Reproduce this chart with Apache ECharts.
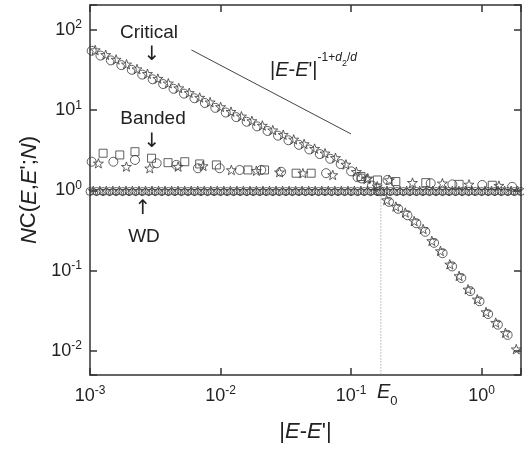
<!DOCTYPE html>
<html><head><meta charset="utf-8">
<script src="https://cdn.jsdelivr.net/npm/echarts@6/dist/echarts.min.js"></script>
<style>html,body{margin:0;padding:0;background:#fff}#c{width:524px;height:449px}</style>
</head><body><div id="c"></div>
<script>
// ---------- data ----------
const xTicks = [0.001, 0.01, 0.1, 1];
const yTicks = [0.01, 0.1, 1, 10, 100];

// Critical: circles
const critCircleX = [0.00103,0.001202,0.001445,0.001738,0.002089,0.002512,0.00302,0.003631,0.004365,0.005248,0.00631,0.007586,0.00912,0.01096,0.01318,0.01585,0.01905,0.02291,0.02754,0.03311,0.03981,0.04786,0.05754,0.06918,0.08318,0.1,0.1202,0.1445,0.166,
  0.195,0.229,0.27,0.316,0.37,0.432,0.502,0.593,0.698,0.817,0.962,1.12,1.33,1.58];
const critCircleY = [55.0,48.0,41.8,36.5,31.9,27.8,24.3,21.2,18.5,16.1,14.1,12.3,10.7,9.36,8.2,7.18,6.29,5.51,4.82,4.22,3.7,3.24,2.84,2.48,2.13,1.73,1.41,1.15,0.98,
  0.72,0.59,0.49,0.39,0.305,0.222,0.165,0.113,0.081,0.0555,0.0415,0.0288,0.0212,0.0158];
// Critical: stars
const critStarX = [0.001096,0.001318,0.001585,0.001905,0.002291,0.002754,0.003311,0.003981,0.004786,0.005754,0.006918,0.008318,0.01,0.01202,0.01445,0.01738,0.02089,0.02512,0.0302,0.03631,0.04365,0.05248,0.0631,0.07586,0.0912,0.1096,0.1318,0.1585,
  0.187,0.22,0.26,0.304,0.356,0.415,0.483,0.57,0.671,0.786,0.925,1.08,1.28,1.52,1.84];
const critStarY = [56.3,49.1,42.9,37.4,32.6,28.5,24.8,21.7,18.9,16.5,14.4,12.6,11.0,9.6,8.41,7.36,6.45,5.65,4.95,4.33,3.8,3.32,2.91,2.55,2.11,1.71,1.39,1.13,
  0.76,0.63,0.53,0.415,0.33,0.235,0.176,0.12,0.086,0.0585,0.044,0.0305,0.0225,0.0168,0.0105];

// Banded
const bandSquareX = [0.00126,0.00169,0.00221,0.00296,0.00396,0.00532,0.00692,0.00929,0.0162,0.0217,0.0379,0.0494,0.119,0.159,0.22,0.373,0.671,1.205];
const bandSquareY = [2.91,2.77,3.04,2.52,2.22,2.28,2.14,2.08,1.80,1.80,1.64,1.64,1.49,1.35,1.29,1.25,1.19,1.16];
const bandCircleX = [0.00103,0.00151,0.00221,0.00324,0.00459,0.00671,0.00985,0.014,0.0205,0.0291,0.0643,0.112,0.19,0.407,0.596,1.01,1.71];
const bandCircleY = [2.28,2.28,2.40,2.18,2.08,1.89,1.89,1.80,1.80,1.71,1.64,1.46,1.35,1.23,1.19,1.17,1.11];
const bandStarX = [0.00116,0.0019,0.00287,0.00473,0.00735,0.0121,0.0188,0.0283,0.0427,0.0723,0.134,0.196,0.295,0.5,0.8,1.355];
const bandStarY = [2.18,1.98,1.89,1.98,2.02,1.80,1.76,1.69,1.64,1.56,1.42,1.35,1.25,1.23,1.19,1.15];

// WD
const wdCircleX = [0.001,0.001122,0.001259,0.001413,0.001585,0.001778,0.001995,0.002239,0.002512,0.002818,0.003162,0.003548,0.003981,0.004467,0.005012,0.005623,0.00631,0.007079,0.007943,0.008913,
  0.01,0.01122,0.01259,0.01413,0.01585,0.01778,0.01995,0.02239,0.02512,0.02818,0.03162,0.03548,0.03981,0.04467,0.05012,0.05623,0.0631,0.07079,0.07943,0.08913,
  0.1,0.1122,0.1259,0.1413,0.1585,0.1778,0.1995,0.2239,0.2512,0.2818,0.3162,0.3548,0.3981,0.4467,0.5012,0.5623,0.631,0.7079,0.7943,0.8913,
  1,1.122,1.259,1.413,1.585,1.778,1.995];
const wdCircleY = [0.97,0.97,0.97,0.97,0.97,0.97,0.97,0.97,0.97,0.97,0.97,0.97,0.97,0.97,0.97,0.97,0.97,0.97,0.97,0.97,
  0.97,0.97,0.97,0.97,0.97,0.97,0.97,0.97,0.97,0.97,0.97,0.97,0.97,0.97,0.97,0.97,0.97,0.97,0.97,0.97,
  0.97,0.97,0.97,0.97,0.97,0.97,0.97,0.97,0.97,0.97,0.97,0.97,0.97,0.97,0.97,0.97,0.97,0.97,0.97,0.97,
  0.97,0.97,0.97,0.97,0.97,0.97,0.97];
const wdStarX = [0.001059,0.001189,0.001334,0.001496,0.001679,0.001884,0.002113,0.002371,0.002661,0.002985,0.00335,0.003758,0.004217,0.004732,0.005309,0.005957,0.006683,0.007499,0.008414,0.009441,
  0.01059,0.01189,0.01334,0.01496,0.01679,0.01884,0.02113,0.02371,0.02661,0.02985,0.0335,0.03758,0.04217,0.04732,0.05309,0.05957,0.06683,0.07499,0.08414,0.09441,
  0.1059,0.1189,0.1334,0.1496,0.1679,0.1884,0.2113,0.2371,0.2661,0.2985,0.335,0.3758,0.4217,0.4732,0.5309,0.5957,0.6683,0.7499,0.8414,0.9441,
  1.059,1.189,1.334,1.496,1.679,1.884];
const wdStarY = [0.99,0.99,0.99,0.99,0.99,0.99,0.99,0.99,0.99,0.99,0.99,0.99,0.99,0.99,0.99,0.99,0.99,0.99,0.99,0.99,
  0.99,0.99,0.99,0.99,0.99,0.99,0.99,0.99,0.99,0.99,0.99,0.99,0.99,0.99,0.99,0.99,0.99,0.99,0.99,0.99,
  0.99,0.99,0.99,0.99,0.99,0.99,0.99,0.99,0.99,0.99,0.99,0.99,0.99,0.99,0.99,0.99,0.99,0.99,0.99,0.99,
  0.99,0.99,0.99,0.99,0.99,0.99];

// reference power law line and E0 marker
const guideX = [0.00598, 0.0998];
const guideY = [56.4, 5.06];
const e0X = [0.169, 0.169];
const e0Y = [1.0, 0.005];

// ---------- chart ----------
const FONT = 'Liberation Sans, Arial, sans-serif';
const INK = '#333';
const zip = (xs, ys) => xs.map((x, i) => [x, ys[i]]);
const STAR = 'path://M0,-10L2.35,-3.24L9.51,-3.09L3.8,1.24L5.88,8.09L0,4L-5.88,8.09L-3.8,1.24L-9.51,-3.09L-2.35,-3.24Z';

function hollow(name, xs, ys, symbol, size) {
  return {
    type: 'scatter', name, data: zip(xs, ys), symbol, symbolSize: size, symbolKeepAspect: true,
    itemStyle: { color: 'rgba(255,255,255,0)', borderColor: '#3a3a3a', borderWidth: 1 },
    silent: true, animation: false
  };
}
function powLabel(v) {
  const e = Math.log10(v);
  const r = Math.round(e);
  if (Math.abs(e - r) > 1e-6) return '';
  return '{b|10}{s|' + r + '}';
}
const labelRich = {
  b: { fontSize: 18, fontFamily: FONT, color: '#222', lineHeight: 22 },
  s: { fontSize: 12, fontFamily: FONT, color: '#222', lineHeight: 12, verticalAlign: 'top' }
};
const axisCommon = {
  type: 'log', logBase: 10,
  axisLine: { show: true, lineStyle: { color: INK, width: 1.5 } },
  axisTick: { show: true, inside: true, length: 7, lineStyle: { color: INK, width: 1.5 } },
  minorTick: { show: false }, splitLine: { show: false }
};

const chart = echarts.init(document.getElementById('c'), null, { renderer: 'canvas' });
chart.setOption({
  animation: false,
  backgroundColor: '#fff',
  grid: { left: 90, right: 2, top: 5, bottom: 74 },
  xAxis: [
    Object.assign({}, axisCommon, {
      min: 0.001, max: 2, position: 'bottom',
      axisLabel: { formatter: powLabel, rich: labelRich, margin: 10 },
      name: "{n||}{i|E}{n|-}{i|E}{n|'|}", nameLocation: 'middle', nameGap: 46,
      nameTextStyle: { rich: {
        n: { fontSize: 22, fontFamily: FONT, color: '#222' },
        i: { fontSize: 22, fontFamily: FONT, fontStyle: 'italic', color: '#222' } } }
    }),
    Object.assign({}, axisCommon, { min: 0.001, max: 2, position: 'top', axisLabel: { show: false } })
  ],
  yAxis: [
    Object.assign({}, axisCommon, {
      min: 0.005, max: 205, position: 'left',
      axisLabel: { formatter: powLabel, rich: labelRich, margin: 8 },
      name: "{i|N}{n|C(}{i|E}{n|,}{i|E}{n|';}{i|N}{n|)}", nameLocation: 'middle', nameGap: 47, nameRotate: 90,
      nameTextStyle: { rich: {
        n: { fontSize: 22, fontFamily: FONT, color: '#222' },
        i: { fontSize: 22, fontFamily: FONT, fontStyle: 'italic', color: '#222' } } }
    }),
    Object.assign({}, axisCommon, { min: 0.005, max: 205, position: 'right', axisLabel: { show: false } })
  ],
  series: [
    { type: 'line', data: zip(guideX, guideY), symbol: 'none', lineStyle: { color: '#444', width: 1 }, silent: true },
    { type: 'line', data: zip(e0X, e0Y), symbol: 'none', lineStyle: { color: '#888', width: 1, type: [1, 2] }, silent: true },
    hollow('WD circles', wdCircleX, wdCircleY, 'circle', 8),
    hollow('WD stars', wdStarX, wdStarY, STAR, 10),
    hollow('Banded squares', bandSquareX, bandSquareY, 'rect', 8),
    hollow('Banded circles', bandCircleX, bandCircleY, 'circle', 9),
    hollow('Banded stars', bandStarX, bandStarY, STAR, 10),
    hollow('Critical circles', critCircleX, critCircleY, 'circle', 9),
    hollow('Critical stars', critStarX, critStarY, STAR, 10)
  ],
  graphic: [
    { type: 'text', x: 149, y: 33, style: { text: 'Critical', fontSize: 19, fontFamily: FONT, fill: '#222', align: 'center', verticalAlign: 'middle' } },
    { type: 'text', x: 152, y: 55, style: { text: '↓', fontSize: 20, fontFamily: 'DejaVu Sans', fill: '#222', align: 'center', verticalAlign: 'middle' } },
    { type: 'text', x: 153, y: 119, style: { text: 'Banded', fontSize: 19, fontFamily: FONT, fill: '#222', align: 'center', verticalAlign: 'middle' } },
    { type: 'text', x: 152, y: 142, style: { text: '↓', fontSize: 20, fontFamily: 'DejaVu Sans', fill: '#222', align: 'center', verticalAlign: 'middle' } },
    { type: 'text', x: 143, y: 209, style: { text: '↑', fontSize: 20, fontFamily: 'DejaVu Sans', fill: '#222', align: 'center', verticalAlign: 'middle' } },
    { type: 'text', x: 144, y: 237, style: { text: 'WD', fontSize: 19, fontFamily: FONT, fill: '#222', align: 'center', verticalAlign: 'middle' } },
    { type: 'text', x: 270, y: 52, style: {
      text: "{m||}{i|E}{m|-}{i|E}{m|'|}{s|-1+}{si|d}{sub|2}{s|/}{si|d}",
      align: 'left', verticalAlign: 'top',
      rich: {
        m: { fontSize: 20, fontFamily: FONT, fill: '#222', lineHeight: 28, verticalAlign: 'bottom' },
        i: { fontSize: 20, fontFamily: FONT, fontStyle: 'italic', fill: '#222', lineHeight: 28, verticalAlign: 'bottom' },
        s: { fontSize: 12, fontFamily: FONT, fill: '#222', lineHeight: 13, verticalAlign: 'top' },
        si: { fontSize: 12, fontFamily: FONT, fontStyle: 'italic', fill: '#222', lineHeight: 13, verticalAlign: 'top' },
        sub: { fontSize: 9, fontFamily: FONT, fill: '#222', lineHeight: 9, verticalAlign: 'top', padding: [7, 0, 0, 0] }
      } } },
    { type: 'text', x: 377, y: 382, style: {
      text: '{i|E}{sub|0}', align: 'left', verticalAlign: 'top',
      rich: {
        i: { fontSize: 20, fontFamily: FONT, fontStyle: 'italic', fill: '#222', lineHeight: 22, verticalAlign: 'top' },
        sub: { fontSize: 13, fontFamily: FONT, fill: '#222', lineHeight: 13, verticalAlign: 'top', padding: [13, 0, 0, 0] }
      } } }
  ]
});
</script>
</body></html>
